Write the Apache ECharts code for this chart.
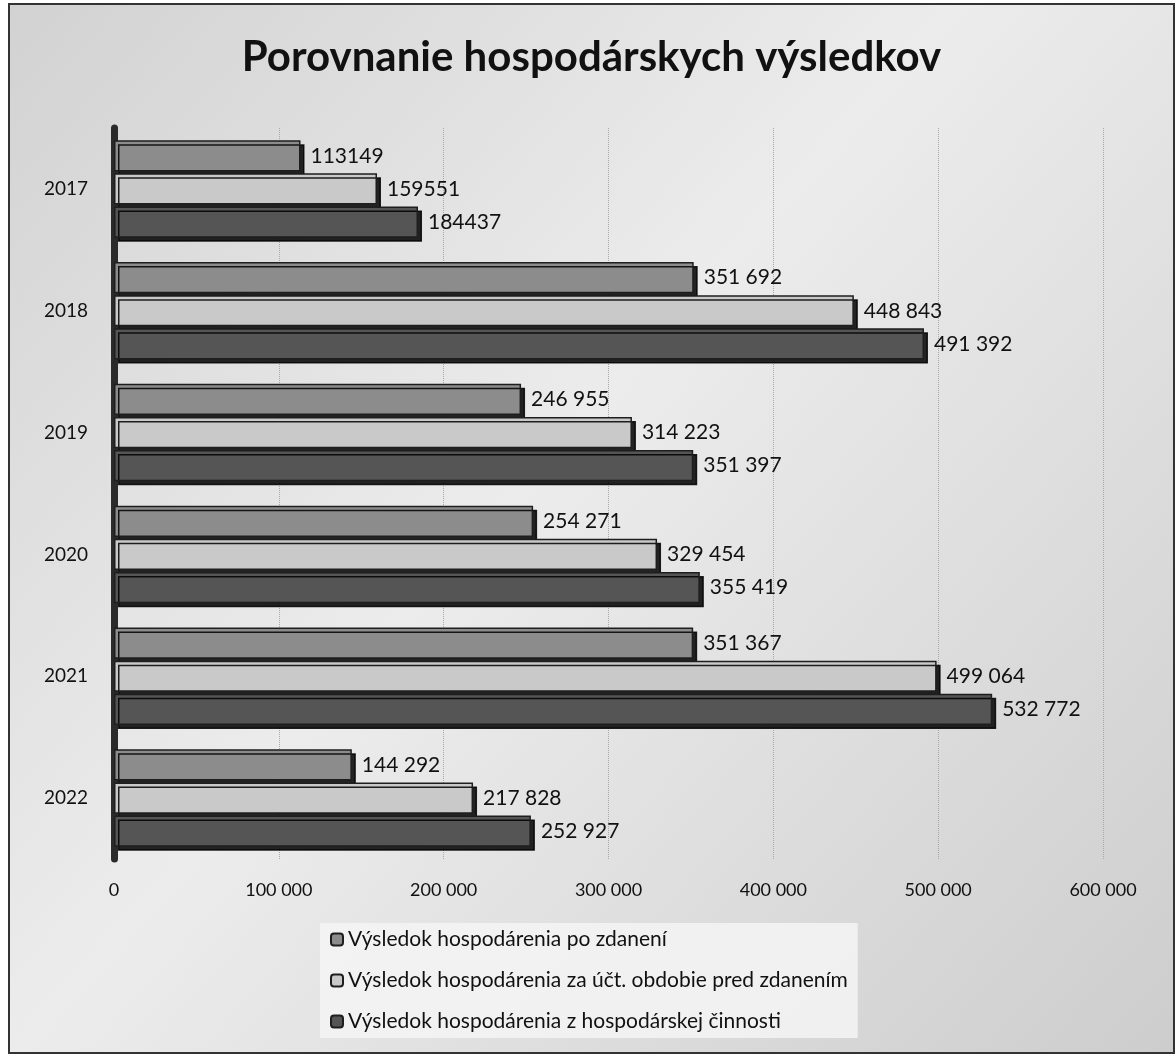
<!DOCTYPE html>
<html>
<head>
<meta charset="utf-8">
<script src="https://cdn.jsdelivr.net/npm/echarts@6/dist/echarts.min.js"></script>
<style>
  html, body { margin: 0; padding: 0; background: #fff; }
  #chart { position: absolute; left: 8px; top: 3px; width: 1167px; height: 1051px; border: 2px solid #333; box-sizing: border-box; }
</style>
</head>
<body>
<div id="chart"></div>
<script>
// years on the category axis
const years = ['2017', '2018', '2019', '2020', '2021', '2022'];

// series values
const poZdaneni = [113149, 351692, 246955, 254271, 351367, 144292];
const predZdanenim = [159551, 448843, 314223, 329454, 499064, 217828];
const zCinnosti = [184437, 491392, 351397, 355419, 532772, 252927];

const seriesNames = [
    'Výsledok hospodárenia po zdanení',
    'Výsledok hospodárenia za účt. obdobie pred zdanením',
    'Výsledok hospodárenia z hospodárskej činnosti'
];

// x axis ticks
const xTicks = [0, 100000, 200000, 300000, 400000, 500000, 600000];

// in the original the 2017 labels have no thousands separator
const plainYears = ['2017'];

const font = 'Lato, "Open Sans", sans-serif';

function spaced(v) {
    return String(v).replace(/\B(?=(\d{3})+(?!\d))/g, ' ');
}

let myChart = echarts.init(document.getElementById('chart'));

function barSeries(name, data, color) {
    return {
        name: name,
        type: 'bar',
        data: data,
        barCategoryGap: '20%',
        barGap: '6%',
        itemStyle: {
            color: color,
            borderColor: '#1e1e1e',
            borderWidth: 1.5,
            shadowColor: 'rgba(0,0,0,0.85)',
            shadowOffsetX: 4,
            shadowOffsetY: 4,
            shadowBlur: 0
        },
        label: {
            show: true,
            position: 'right',
            distance: 10,
            color: '#111',
            fontFamily: font,
            fontSize: 21,
            formatter: function (p) {
                return plainYears.indexOf(p.name) >= 0 ? String(p.value) : spaced(p.value);
            }
        }
    };
}

let option = {
    backgroundColor: {
        type: 'linear', x: 0, y: 0, x2: 1, y2: 1,
        colorStops: [
            { offset: 0, color: '#d2d2d2' },
            { offset: 0.45, color: '#ececec' },
            { offset: 1, color: '#cdcdcd' }
        ]
    },
    title: {
        text: 'Porovnanie hospodárskych výsledkov',
        left: 'center',
        top: 26,
        textStyle: { fontFamily: font, fontSize: 42, fontWeight: 'bold', color: '#111' }
    },
    legend: {
        orient: 'vertical',
        left: 310,
        top: 918,
        itemWidth: 12,
        itemHeight: 12,
        itemGap: 20,
        padding: [6, 10],
        backgroundColor: 'rgba(245,245,245,0.85)',
        textStyle: { fontFamily: font, fontSize: 21, color: '#111' },
        data: seriesNames
    },
    grid: {
        left: 104,
        right: 70,
        top: 123,
        bottom: 193,
        containLabel: false
    },
    xAxis: {
        type: 'value',
        min: xTicks[0],
        max: xTicks[xTicks.length - 1],
        interval: xTicks[1] - xTicks[0],
        axisLine: { show: false },
        axisTick: { show: false },
        axisLabel: {
            margin: 22,
            color: '#111',
            fontFamily: font,
            fontSize: 18,
            formatter: function (v) { return spaced(v); }
        },
        splitLine: {
            show: true,
            lineStyle: { color: '#a8a8a8', type: 'dotted', width: 1 }
        }
    },
    yAxis: {
        type: 'category',
        inverse: true,
        data: years,
        axisLine: { show: true, lineStyle: { color: '#2a2a2a', width: 7 } },
        axisTick: { show: false },
        axisLabel: {
            margin: 26,
            color: '#111',
            fontFamily: font,
            fontSize: 19
        }
    },
    series: [
        barSeries(seriesNames[0], poZdaneni, '#8c8c8c'),
        barSeries(seriesNames[1], predZdanenim, '#c9c9c9'),
        barSeries(seriesNames[2], zCinnosti, '#555555')
    ]
};

myChart.setOption(option);
</script>
</body>
</html>
